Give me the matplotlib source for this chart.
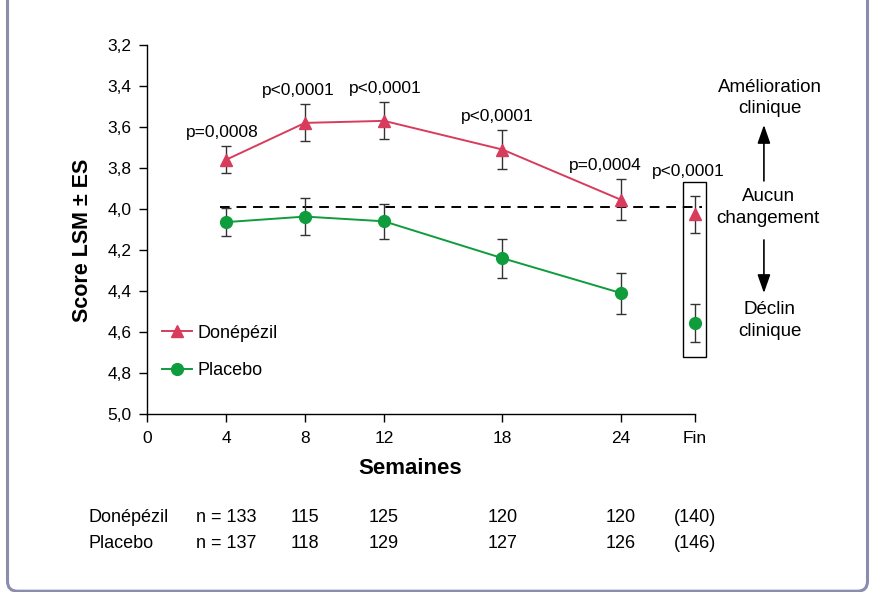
import matplotlib
matplotlib.use("Agg")
import matplotlib.pyplot as plt
from matplotlib.patches import Rectangle, FancyBboxPatch
from matplotlib.transforms import blended_transform_factory

plt.rcParams['font.family'] = ['Liberation Sans', 'DejaVu Sans']

# data
weeks = [4, 8, 12, 18, 24]
fin_x = 27.75
tick_pos = [0, 4, 8, 12, 18, 24, fin_x]
tick_labels = ['0', '4', '8', '12', '18', '24', 'Fin']

don_mean = [3.76, 3.58, 3.57, 3.71, 3.955]
don_err = [0.065, 0.09, 0.09, 0.095, 0.10]
don_fin, don_fin_err = 4.025, 0.09

pla_mean = [4.064, 4.037, 4.06, 4.24, 4.41]
pla_err = [0.07, 0.09, 0.085, 0.095, 0.10]
pla_fin, pla_fin_err = 4.556, 0.093

baseline = 3.99
p_labels = ['p=0,0008', 'p<0,0001', 'p<0,0001', 'p<0,0001', 'p=0,0004']
p_fin = 'p<0,0001'

n_don = ['n = 133', '115', '125', '120', '120', '(140)']
n_pla = ['n = 137', '118', '129', '127', '126', '(146)']

red = '#d83c5c'
green = '#0e9c3c'

fig = plt.figure(figsize=(8.73, 5.92), dpi=100)
ax = fig.add_axes([147/873, 178/592, 548/873, 369/592])

# frame around the panel (bottom edge sits on the image border)
frame = FancyBboxPatch((0.075, 0.008), 8.6, 6.5, boxstyle='round,pad=0,rounding_size=0.1',
                       transform=fig.dpi_scale_trans, fill=False, ec='#8c8cb0', lw=2.2)
fig.add_artist(frame)

# error bars
ax.errorbar(weeks + [fin_x], don_mean + [don_fin], yerr=don_err + [don_fin_err], fmt='none',
            ecolor='#333333', elinewidth=1, capsize=3.5, capthick=1, zorder=2, clip_on=False)
ax.errorbar(weeks + [fin_x], pla_mean + [pla_fin], yerr=pla_err + [pla_fin_err], fmt='none',
            ecolor='#333333', elinewidth=1, capsize=3.5, capthick=1, zorder=2, clip_on=False)

# reference line
ax.hlines(baseline, 3.7, 28.1, colors='black', linestyles=(0, (5, 3.5)), lw=1.4, zorder=1,
          clip_on=False)

ax.plot(weeks, don_mean, '-^', color=red, lw=1.4, ms=9, label='Donépézil', zorder=3)
ax.plot(weeks, pla_mean, '-o', color=green, lw=1.4, ms=8.5, label='Placebo', zorder=3)
ax.plot([fin_x], [don_fin], '^', color=red, ms=9, zorder=3, clip_on=False)
ax.plot([fin_x], [pla_fin], 'o', color=green, ms=8.5, zorder=3, clip_on=False)

# box around final values
ax.add_patch(Rectangle((fin_x - 0.6, 3.87), 1.18, 0.85, fill=False, ec='black', lw=1,
                       clip_on=False, zorder=4))

# p-values above the upper error bar
p_dx = [-4, -7, 1, -5, -16]
for x, m, e, lab, dx in zip(weeks, don_mean, don_err, p_labels, p_dx):
    ax.annotate(lab, (x, m - e), xytext=(dx * 0.72, 10), textcoords='offset points',
                ha='center', va='center', fontsize=12.5)
ax.annotate(p_fin, (fin_x, 3.87), xytext=(-5, 8), textcoords='offset points',
            ha='center', va='center', fontsize=12.5, annotation_clip=False)

# interpretation on the right
ax.text(31.54, 3.459, 'Amélioration\nclinique', ha='center', va='center', fontsize=13.5,
        linespacing=1.35)
ax.text(31.45, 3.993, 'Aucun\nchangement', ha='center', va='center', fontsize=13.5,
        linespacing=1.35)
ax.text(31.54, 4.544, 'Déclin\nclinique', ha='center', va='center', fontsize=13.5,
        linespacing=1.35)
arrow = dict(arrowstyle='-|>,head_length=0.8,head_width=0.28', color='black', lw=1.2,
             mutation_scale=14, shrinkA=0, shrinkB=0)
ax.annotate('', xy=(31.24, 3.59), xytext=(31.24, 3.863), arrowprops=arrow, annotation_clip=False)
ax.annotate('', xy=(31.24, 4.41), xytext=(31.24, 4.151), arrowprops=arrow, annotation_clip=False)

ax.set_xlim(0, fin_x)
ax.set_ylim(5.0, 3.2)
yt = [3.2 + 0.2 * i for i in range(10)]
ax.set_yticks(yt)
ax.set_yticklabels([f'{v:.1f}'.replace('.', ',') for v in yt])
ax.set_xticks(tick_pos)
ax.set_xticklabels(tick_labels)
ax.tick_params(axis='both', direction='out', length=6, width=1, labelsize=12.5, color='black')
ax.tick_params(axis='y', pad=5)
ax.tick_params(axis='x', pad=6)
for s in ['top', 'right']:
    ax.spines[s].set_visible(False)
for s in ['left', 'bottom']:
    ax.spines[s].set_linewidth(1)

ax.legend(loc='center left', bbox_to_anchor=(0.027, 0.168), frameon=False, fontsize=13,
          handlelength=1.7, handletextpad=0.3, labelspacing=1.15, borderpad=0, borderaxespad=0)

fig.text(83/873, 1 - 240/592, 'Score LSM ± ES', rotation=90, ha='center', va='center',
         fontsize=15.5, fontweight='bold')
fig.text(410/873, 1 - 469/592, 'Semaines', ha='center', va='center', fontsize=16,
         fontweight='bold')

# patient counts under the x axis
tr = blended_transform_factory(ax.transData, fig.transFigure)
fig.text(89/873, 1 - 518/592, 'Donépézil', ha='left', va='center', fontsize=13)
fig.text(89/873, 1 - 543/592, 'Placebo', ha='left', va='center', fontsize=13)
for x, a, b in zip(tick_pos[1:], n_don, n_pla):
    ax.text(x, 1 - 518/592, a, transform=tr, ha='center', va='center', fontsize=13)
    ax.text(x, 1 - 543/592, b, transform=tr, ha='center', va='center', fontsize=13)

fig.savefig('out.png', dpi=100)
